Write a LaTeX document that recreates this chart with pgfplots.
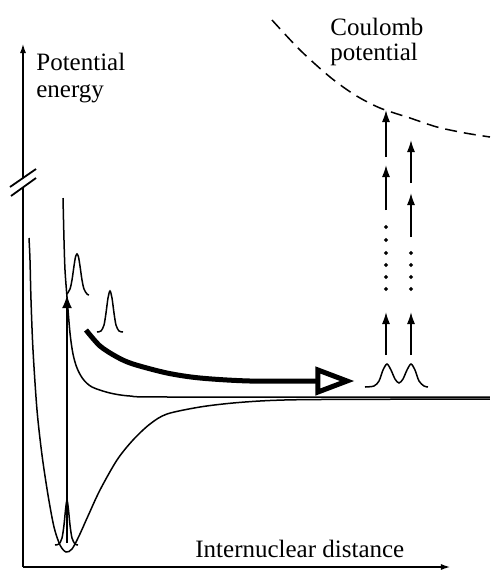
\documentclass[border=0pt]{standalone}
\usepackage{fontspec}
\setmainfont{Liberation Serif}
\usepackage{pgfplots}
\pgfplotsset{compat=1.18}
\usetikzlibrary{arrows.meta}
\begin{document}
\begin{tikzpicture}
\begin{axis}[scale only axis, width=246pt, height=285pt,
  xmin=0, xmax=492, ymin=0, ymax=570, y dir=reverse,
  hide axis, clip=false,
  every axis plot/.append style={line width=0.75pt, black, mark=none}]
\path (axis cs:0,0) rectangle (axis cs:492,570);
% axes
\addplot[line width=1pt, -{Latex[length=5pt,width=3pt]}] coordinates {(23,178) (23,43)};
\addplot[line width=1pt] coordinates {(23,567) (23,187)};
\addplot[line width=1pt, -{Latex[length=5pt,width=3pt]}] coordinates {(23,567) (451,567)};
\addplot[line width=0.9pt] coordinates {(10,187) (36,169)};
\addplot[line width=0.9pt] coordinates {(11,196) (36,178)};
% ground state potential
\addplot[smooth] coordinates {(29,238) (30,260) (31,300) (33,350) (37,410) (42,455) (48,495) (54,527) (60,545) (66,552) (72,549) (79,536) (88,516) (100,490) (117,460) (133,440) (150,424) (167,414) (200,407) (233,403) (270,400.5) (320,399.5) (490,399)};
% excited (repulsive) potential
\addplot[smooth] coordinates {(63,198) (64,240) (65,270) (67,297) (70,333) (73,354) (77,368) (83,379) (92,387) (110,393) (130,396) (170,397) (490,397)};
% vertical excitation arrow
\addplot[line width=1pt, -{Latex[length=6.5pt,width=5pt]}] coordinates {(67,543) (67,295)};
% wavepackets
\addplot[smooth] coordinates {(55,545) (59,544) (62,538) (64,525) (65.5,510) (67,500) (68.5,510) (70,525) (72,538) (75,544) (78,545)};
\addplot[smooth] coordinates {(67,294) (70,289) (72,280) (74,266) (75.5,257) (77,254) (78.5,257) (80,266) (82,280) (84,289) (87,294) (89,295)};
\addplot[smooth] coordinates {(97,332) (101,331) (104,325) (106,313) (108,298) (110,291) (112,298) (114,313) (116,325) (119,331) (123,332)};
\addplot[smooth] coordinates {(365,387) (374,386) (379,381) (383,370) (387,364) (391,370) (395,379) (399,383) (403,379) (407,370) (411,364) (415,370) (419,381) (424,386) (428,387)};
% thick curved arrow
\addplot[smooth, line width=2.5pt] coordinates {(86,330) (100,346) (117,357) (133,364) (167,373) (200,378) (250,381) (318,381)};
\addplot[line width=2.5pt, fill=white, line join=miter] coordinates {(318,370) (347,381) (318,392)} -- cycle;
% ionisation ladders
\addplot[line width=0.8pt, -{Latex[length=6pt,width=4pt]}] coordinates {(386,355) (386,312)};
\addplot[line width=0.8pt, -{Latex[length=6pt,width=4pt]}] coordinates {(411,355) (411,312)};
\addplot[line width=0.8pt, -{Latex[length=6pt,width=4pt]}] coordinates {(386,210) (386,165)};
\addplot[line width=0.8pt, -{Latex[length=6pt,width=4pt]}] coordinates {(386,157) (386,110)};
\addplot[line width=0.8pt, -{Latex[length=6pt,width=4pt]}] coordinates {(411,237) (411,193)};
\addplot[line width=0.8pt, -{Latex[length=6pt,width=4pt]}] coordinates {(411,183) (411,140)};
\addplot[only marks, mark=*, mark size=0.55pt] coordinates {(386,227) (386,240) (386,253) (386,265) (386,277) (386,289) (411,253) (411,265) (411,277) (411,289)};
% Coulomb potential
\addplot[smooth, dash pattern=on 6pt off 3.5pt] coordinates {(272,20) (300,50) (330,77) (355,95) (380,108) (410,118) (437,127) (465,133) (490,137)};
% labels
\node[anchor=base west, inner sep=0, font=\fontsize{12.5}{14}\selectfont] at (axis cs:36,70) {Potential};
\node[anchor=base west, inner sep=0, font=\fontsize{12.5}{14}\selectfont] at (axis cs:36,97) {energy};
\node[anchor=base west, inner sep=0, font=\fontsize{12.5}{14}\selectfont] at (axis cs:330,35) {Coulomb};
\node[anchor=base west, inner sep=0, font=\fontsize{12.5}{14}\selectfont] at (axis cs:330,60) {potential};
\node[anchor=base west, inner sep=0, font=\fontsize{12.5}{14}\selectfont] at (axis cs:195,557) {Internuclear distance};
\end{axis}
\end{tikzpicture}
\end{document}
